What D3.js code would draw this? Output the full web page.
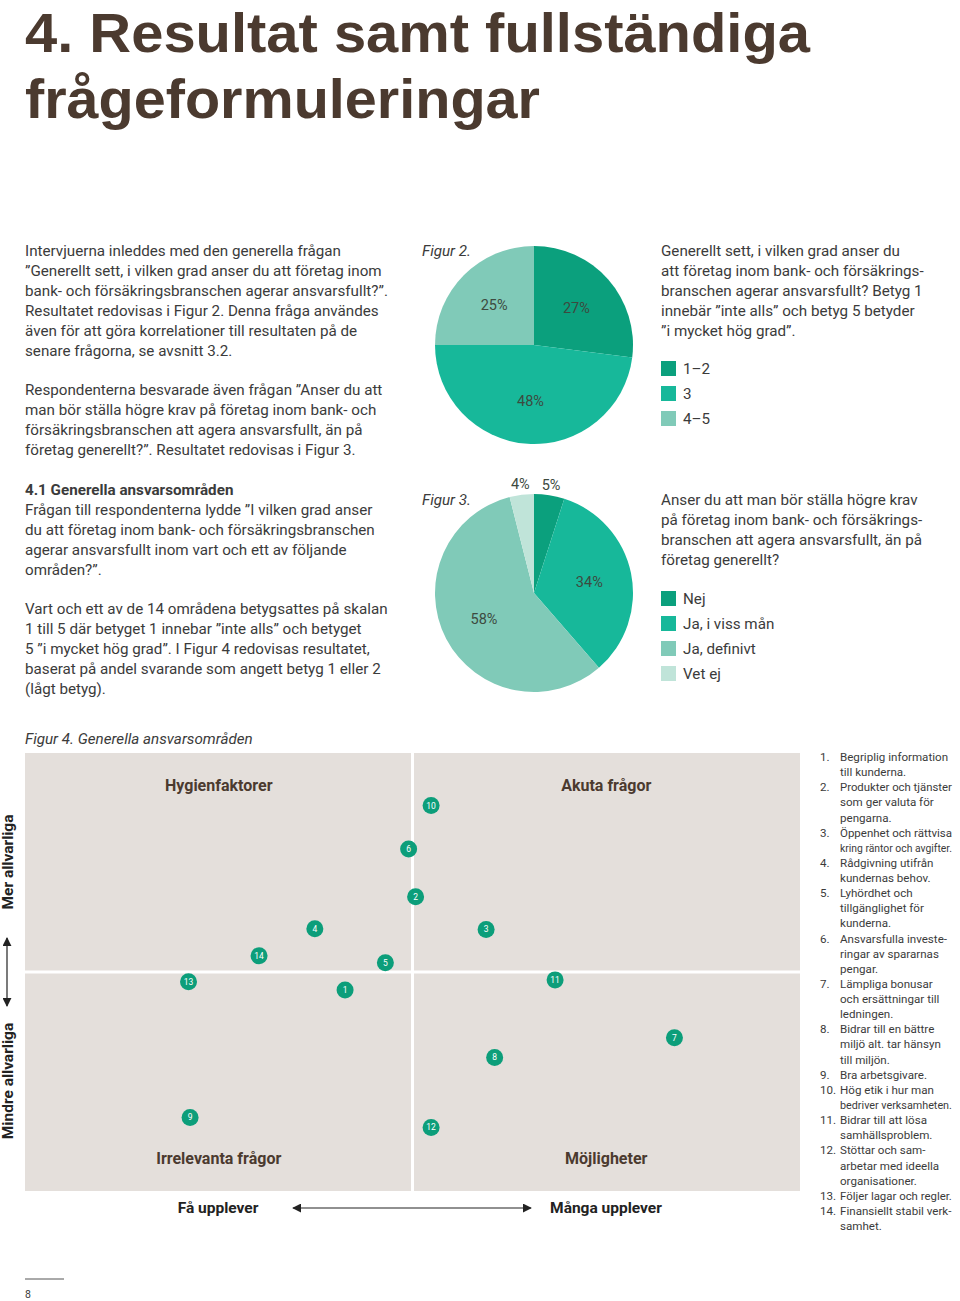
<!DOCTYPE html>
<html><head><meta charset="utf-8">
<script src="https://cdn.jsdelivr.net/npm/d3@7"></script>
<style>
body{margin:0;background:#fff;}
svg{display:block;}
</style></head>
<body>
<script>
// ---------- DATA ----------
const titleLines = ["4. Resultat samt fullständiga", "frågeformuleringar"];
const para1 = ["Intervjuerna inleddes med den generella frågan",
 "”Generellt sett, i vilken grad anser du att företag inom",
 "bank- och försäkringsbranschen agerar ansvarsfullt?”.",
 "Resultatet redovisas i Figur 2. Denna fråga användes",
 "även för att göra korrelationer till resultaten på de",
 "senare frågorna, se avsnitt 3.2."];
const para2 = ["Respondenterna besvarade även frågan ”Anser du att",
 "man bör ställa högre krav på företag inom bank- och",
 "försäkringsbranschen att agera ansvarsfullt, än på",
 "företag generellt?”. Resultatet redovisas i Figur 3."];
const heading41 = "4.1 Generella ansvarsområden";
const para3 = ["Frågan till respondenterna lydde ”I vilken grad anser",
 "du att företag inom bank- och försäkringsbranschen",
 "agerar ansvarsfullt inom vart och ett av följande",
 "områden?”."];
const para4 = ["Vart och ett av de 14 områdena betygsattes på skalan",
 "1 till 5 där betyget 1 innebar ”inte alls” och betyget",
 "5 ”i mycket hög grad”. I Figur 4 redovisas resultatet,",
 "baserat på andel svarande som angett betyg 1 eller 2",
 "(lågt betyg)."];

const fig2Label = "Figur 2.";
const fig2Categories = ["1–2", "3", "4–5"];
const fig2Values = [27, 48, 25];
const fig2Question = ["Generellt sett, i vilken grad anser du",
 "att företag inom bank- och försäkrings-",
 "branschen agerar ansvarsfullt? Betyg 1",
 "innebär ”inte alls” och betyg 5 betyder",
 "”i mycket hög grad”."];

const fig3Label = "Figur 3.";
const fig3Categories = ["Nej", "Ja, i viss mån", "Ja, definivt", "Vet ej"];
const fig3Values = [5, 34, 58, 4];
const fig3Question = ["Anser du att man bör ställa högre krav",
 "på företag inom bank- och försäkrings-",
 "branschen att agera ansvarsfullt, än på",
 "företag generellt?"];

const fig4Title = "Figur 4. Generella ansvarsområden";
const quadrantNames = ["Hygienfaktorer", "Akuta frågor", "Irrelevanta frågor", "Möjligheter"];
const axisLabels = {yHigh: "Mer allvarliga", yLow: "Mindre allvarliga", xLow: "Få upplever", xHigh: "Många upplever"};
// point id, x (how many experience, 0-100), y (seriousness, 0-100)
const pointIds = [1,2,3,4,5,6,7,8,9,10,11,12,13,14];
const pointX = [41.3, 50.4, 59.5, 37.4, 46.5, 49.5, 83.8, 60.6, 21.3, 52.4, 68.4, 52.4, 21.1, 30.2];
const pointY = [45.9, 67.2, 59.7, 59.9, 52.1, 78.1, 35.0, 30.5, 16.8, 88.0, 48.2, 14.5, 47.8, 53.7];
const listItems = [
 ["Begriplig information", "till kunderna."],
 ["Produkter och tjänster", "som ger valuta för", "pengarna."],
 ["Öppenhet och rättvisa", "kring räntor och avgifter."],
 ["Rådgivning utifrån", "kundernas behov."],
 ["Lyhördhet och", "tillgänglighet för", "kunderna."],
 ["Ansvarsfulla investe-", "ringar av spararnas", "pengar."],
 ["Lämpliga bonusar", "och ersättningar till", "ledningen."],
 ["Bidrar till en bättre", "miljö alt. tar hänsyn", "till miljön."],
 ["Bra arbetsgivare."],
 ["Hög etik i hur man", "bedriver verksamheten."],
 ["Bidrar till att lösa", "samhällsproblem."],
 ["Stöttar och sam-", "arbetar med ideella", "organisationer."],
 ["Följer lagar och regler."],
 ["Finansiellt stabil verk-", "samhet."]];
const pageNumber = "8";

// ---------- STYLE ----------
const W = 960, H = 1301;
const brown = "#4b3a2f", textCol = "#3b3b3b";
const cDark = "#0ba07d", cMid = "#17b89a", cLight = "#80cab8", cPale = "#c0e4d9";
const bodyFont = "Roboto, 'Noto Sans', sans-serif";

const svg = d3.select("body").append("svg").attr("width", W).attr("height", H);

// Title
const titleLengths = [785, 515];
svg.selectAll("text.title").data(titleLines).join("text")
  .attr("class","title")
  .attr("x", 25).attr("y", (d,i)=> 52 + i*66)
  .attr("font-family", "'Liberation Sans', Arial, sans-serif")
  .attr("font-weight", 700).attr("font-size", 56)
  .attr("fill", brown)
  .attr("textLength", (d,i)=>titleLengths[i]).attr("lengthAdjust","spacingAndGlyphs")
  .text(d=>d);

function textBlock(lines, x, y, opts={}) {
  const g = svg.append("g");
  g.selectAll("text").data(lines).join("text")
    .attr("x", x).attr("y", (d,i)=> y + i*(opts.lh||20))
    .attr("font-family", opts.family || bodyFont)
    .attr("font-size", opts.size || 15.2)
    .attr("font-weight", opts.weight || 400)
    .attr("font-style", opts.style || "normal")
    .attr("fill", opts.fill || textCol)
    .attr("text-anchor", opts.anchor || "start")
    .text(d=>d);
  return g;
}

textBlock(para1, 25, 256);
textBlock(para2, 25, 395);
textBlock([heading41], 25, 495, {weight:700});
textBlock(para3, 25, 515);
textBlock(para4, 25, 614);

// ---------- PIES ----------
function drawPie(cx, cy, r, values, colors, figLabel, figY, question, qY, cats, legY) {
  const pie = d3.pie().sort(null).value(d=>d)(values);
  const arc = d3.arc().innerRadius(0).outerRadius(r);
  const g = svg.append("g").attr("transform", `translate(${cx},${cy})`);
  g.selectAll("path").data(pie).join("path")
    .attr("d", arc).attr("fill", (d,i)=>colors[i]);
  const inner = d3.arc().innerRadius(r*0.57).outerRadius(r*0.57);
  const outer = d3.arc().innerRadius(r*1.11).outerRadius(r*1.11);
  g.selectAll("text").data(pie).join("text")
    .attr("transform", d => {
      const c = (d.data < 10 ? outer : inner).centroid(d);
      return `translate(${c[0]},${c[1]})`;
    })
    .attr("text-anchor","middle").attr("dy","0.35em")
    .attr("font-family", bodyFont).attr("font-size", 14.5)
    .attr("fill", "#3d4a3f")
    .text(d=>d.data + "%");
  textBlock([figLabel], 422, figY, {style:"italic"});
  textBlock(question, 661, qY);
  const lg = svg.append("g");
  cats.forEach((c,i)=>{
    lg.append("rect").attr("x",661).attr("y",legY + i*25 - 8).attr("width",15).attr("height",15).attr("fill",colors[i]);
    lg.append("text").attr("x",683).attr("y",legY + i*25 + 5)
      .attr("font-family", bodyFont).attr("font-size",15.2).attr("fill",textCol).text(c);
  });
}
drawPie(534, 345, 99, fig2Values, [cDark,cMid,cLight], fig2Label, 256, fig2Question, 256, fig2Categories, 369);
drawPie(534, 593, 99, fig3Values, [cDark,cMid,cLight,cPale], fig3Label, 505, fig3Question, 505, fig3Categories, 599);

// ---------- FIGURE 4 ----------
textBlock([fig4Title], 25, 744, {style:"italic"});
const plot = {x0:25, x1:800, y0:753, y1:1191};
const xS = d3.scaleLinear().domain([0,100]).range([plot.x0, plot.x1]);
const yS = d3.scaleLinear().domain([0,100]).range([plot.y1, plot.y0]);
svg.append("rect").attr("x",plot.x0).attr("y",plot.y0)
  .attr("width",plot.x1-plot.x0).attr("height",plot.y1-plot.y0).attr("fill","#e4dfdb");
svg.append("line").attr("x1",xS(50)).attr("x2",xS(50)).attr("y1",plot.y0).attr("y2",plot.y1)
  .attr("stroke","#fff").attr("stroke-width",3);
svg.append("line").attr("x1",plot.x0).attr("x2",plot.x1).attr("y1",yS(50)).attr("y2",yS(50))
  .attr("stroke","#fff").attr("stroke-width",3);

const qPos = [[25,92.7],[75,92.7],[25,7.5],[75,7.5]];
svg.selectAll("text.quad").data(quadrantNames).join("text")
  .attr("class","quad")
  .attr("x",(d,i)=>xS(qPos[i][0])).attr("y",(d,i)=>yS(qPos[i][1]))
  .attr("dy","0.35em").attr("text-anchor","middle")
  .attr("font-family", bodyFont).attr("font-weight",700).attr("font-size",16)
  .attr("fill", brown).text(d=>d);

const pts = pointIds.map((id,i)=>({id, x:pointX[i], y:pointY[i]}));
const pg = svg.append("g");
pg.selectAll("circle").data(pts).join("circle")
  .attr("cx",d=>xS(d.x)).attr("cy",d=>yS(d.y)).attr("r",8.5).attr("fill","#0c9e7a");
pg.selectAll("text").data(pts).join("text")
  .attr("x",d=>xS(d.x)).attr("y",d=>yS(d.y)).attr("dy","0.35em")
  .attr("text-anchor","middle").attr("font-family",bodyFont).attr("font-size",8.5)
  .attr("fill","#fff").text(d=>d.id);

// axis labels and arrows
const defs = svg.append("defs");
defs.append("marker").attr("id","ah").attr("viewBox","0 0 10 10").attr("refX",9).attr("refY",5)
  .attr("markerWidth",9).attr("markerHeight",9).attr("orient","auto-start-reverse")
  .attr("markerUnits","userSpaceOnUse")
  .append("path").attr("d","M0,0 L10,5 L0,10 z").attr("fill","#222");

function rotText(t, x, y) {
  svg.append("text").attr("transform",`translate(${x},${y}) rotate(-90)`)
    .attr("text-anchor","middle").attr("dy","0.35em")
    .attr("font-family",bodyFont).attr("font-weight",700).attr("font-size",15.5)
    .attr("fill","#222").text(t);
}
rotText(axisLabels.yHigh, 8, 862);
rotText(axisLabels.yLow, 8, 1081);
svg.append("line").attr("x1",7).attr("x2",7).attr("y1",938).attr("y2",1006)
  .attr("stroke","#222").attr("stroke-width",1.2)
  .attr("marker-start","url(#ah)").attr("marker-end","url(#ah)");

svg.append("text").attr("x",218).attr("y",1208).attr("dy","0.35em").attr("text-anchor","middle")
  .attr("font-family",bodyFont).attr("font-weight",700).attr("font-size",15.5).attr("fill","#222").text(axisLabels.xLow);
svg.append("text").attr("x",606).attr("y",1208).attr("dy","0.35em").attr("text-anchor","middle")
  .attr("font-family",bodyFont).attr("font-weight",700).attr("font-size",15.5).attr("fill","#222").text(axisLabels.xHigh);
svg.append("line").attr("x1",293).attr("x2",531).attr("y1",1208).attr("y2",1208)
  .attr("stroke","#222").attr("stroke-width",1.2)
  .attr("marker-start","url(#ah)").attr("marker-end","url(#ah)");

// numbered list
const lg = svg.append("g");
let line = 0;
const listSize = 11.6, maxW = 112;
listItems.forEach((item, i) => {
  const y0 = 761 + line*15.13;
  lg.append("text").attr("x",820).attr("y",y0).attr("font-family",bodyFont).attr("font-size",listSize)
    .attr("fill",textCol).text((i+1)+".");
  item.forEach((t,j)=>{
    const el = lg.append("text").attr("x",840).attr("y",761 + (line+j)*15.13)
      .attr("font-family",bodyFont).attr("font-size",listSize).attr("fill",textCol).text(t);
    const w = el.node().getComputedTextLength();
    if (w > maxW) {
      el.attr("font-size", listSize * maxW / w).attr("letter-spacing", 0);
    }
  });
  line += item.length;
});

// page number
svg.append("line").attr("x1",25).attr("x2",64).attr("y1",1279).attr("y2",1279).attr("stroke","#555").attr("stroke-width",1);
svg.append("text").attr("x",25).attr("y",1298).attr("font-family",bodyFont).attr("font-size",10.5).attr("fill",textCol).text(pageNumber);
</script>
</body></html>
